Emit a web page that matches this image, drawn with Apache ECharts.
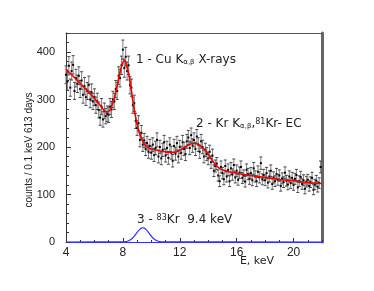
<!DOCTYPE html>
<html><head><meta charset="utf-8">
<script src="https://cdn.jsdelivr.net/npm/echarts@6/dist/echarts.min.js"></script>
<style>html,body{margin:0;padding:0;background:#fff}#c{width:374px;height:291px}</style>
</head><body><div id="c"></div>
<script>
// Measured spectrum, counts per 0.1 keV bin, bins starting at 4.0 keV
const binStart = 4.0;
const binWidth = 0.1;
const counts = [
352,338,371,325,360,373,318,345,333,350,
322,340,310,328,305,318,331,300,315,296,
305,288,296,278,262,285,258,276,265,270,
268,285,279,300,296,322,318,350,345,372,
405,366,390,360,372,330,325,288,292,255,
240,250,215,230,205,214,196,208,190,202,
188,205,183,198,215,180,200,176,194,210,
182,198,177,205,188,171,202,186,208,180,
200,188,210,196,185,212,220,198,225,203,
215,196,222,205,190,212,200,180,194,185,
176,190,168,182,150,160,165,140,128,158,
145,132,160,138,152,128,155,142,162,136,
150,131,146,158,135,140,127,152,143,133,
145,130,155,138,128,148,136,166,132,141,
130,145,125,138,150,122,136,128,143,131,
140,118,134,126,146,129,121,138,124,135,
120,133,141,115,128,137,122,130,112,127,
131,118,126,135,110,121,129,116,124,158
];
// Fit curve (red)
const fitE = [4.0,4.2,4.4,4.6,4.8,5.0,5.2,5.4,5.6,5.8,6.0,6.2,6.4,6.6,6.8,7.0,7.2,7.4,7.6,7.8,8.0,8.1,8.2,8.4,8.6,8.8,9.0,9.2,9.4,9.6,9.8,10.0,10.4,10.8,11.2,11.6,12.0,12.4,12.8,13.0,13.2,13.6,14.0,14.4,14.8,15.2,15.6,16.0,16.5,17.0,17.5,18.0,18.5,19.0,19.5,20.0,20.5,21.0,21.5,22.0];
const fitV = [364,358,352,346,340,334,328,322,316,309,302,295,288,280,274,275,285,303,330,358,378,382,378,355,318,278,247,226,212,203,198,196,193,191,189,189,193,201,207,208,207,199,185,167,155,150,147,145,142,140,138,136,134,132,130,129,127,125,124,123];
// 83Kr line (blue)
const krE = [4.0,8.0,8.1,8.2,8.3,8.4,8.5,8.6,8.7,8.8,8.9,9.0,9.1,9.2,9.3,9.4,9.5,9.6,9.7,9.8,9.9,10.0,10.1,10.2,10.3,10.4,10.5,10.6,10.7,10.8,22.0];
const krV = [0,0.2,0.5,0.9,1.5,2.5,4.1,6.2,8.9,12.3,16.2,20.2,24.0,27.2,29.3,30,29.3,27.2,24.0,20.2,16.2,12.3,8.9,6.2,4.1,2.5,1.5,0.9,0.5,0.2,0];
const xTicks = [4,8,12,16,20];
const yTicks = [0,100,200,300,400];

const pts = counts.map((v,i)=>[+(binStart+binWidth*i).toFixed(2), v]);
const fitData = fitE.map((e,i)=>[e,fitV[i]]);
const krData = krE.map((e,i)=>[e,krV[i]]);

const FONT = 'Liberation Sans, Arial, sans-serif';
const WIDE = 'DejaVu Sans, sans-serif';
const G = {left:66,top:33,right:52,bottom:49};
const chart = echarts.init(document.getElementById('c'), null, {renderer:'canvas'});
chart.setOption({
  animation:false,
  backgroundColor:'#fff',
  grid:[Object.assign({},G),Object.assign({},G)],
  xAxis:[
    {type:'value',gridIndex:0,min:4,max:22,interval:4,position:'bottom',
     axisLine:{show:true,onZero:false,lineStyle:{color:'#3030ff',width:1}},
     axisTick:{show:true,inside:true,length:4,lineStyle:{color:'#333'}},
     axisLabel:{show:true,margin:5,color:'#222',fontSize:12,fontFamily:FONT,showMaxLabel:false,
       formatter:v=>xTicks.indexOf(v)>=0?String(v):''},
     splitLine:{show:false}},
    {type:'value',gridIndex:0,min:4,max:22,position:'top',
     axisLine:{show:true,onZero:false,lineStyle:{color:'#555',width:1}},axisTick:{show:false},
     axisLabel:{show:false},splitLine:{show:false}},
    {type:'value',gridIndex:1,min:4,max:22,interval:1,position:'bottom',
     axisLine:{show:false,onZero:false},axisTick:{show:true,inside:true,length:2,lineStyle:{color:'#333'}},
     axisLabel:{show:false},splitLine:{show:false}}
  ],
  yAxis:[
    {type:'value',gridIndex:0,min:0,max:440,interval:100,position:'left',
     axisLine:{show:true,onZero:false,lineStyle:{color:'#333',width:1}},
     axisTick:{show:true,inside:true,length:5,lineStyle:{color:'#333'}},
     axisLabel:{show:true,margin:11,color:'#222',fontSize:11,fontFamily:FONT,showMaxLabel:false,
       formatter:v=>yTicks.indexOf(v)>=0?String(v):''},
     splitLine:{show:false}},
    {type:'value',gridIndex:0,min:0,max:440,position:'right',
     axisLine:{show:true,onZero:false,lineStyle:{color:'#666',width:3}},axisTick:{show:false},
     axisLabel:{show:false},splitLine:{show:false}},
    {type:'value',gridIndex:1,min:0,max:440,interval:20,position:'left',
     axisLine:{show:false,onZero:false},axisTick:{show:true,inside:true,length:3,lineStyle:{color:'#333'}},
     axisLabel:{show:false},splitLine:{show:false}}
  ],
  series:[
    {type:'custom',xAxisIndex:0,yAxisIndex:0,data:pts,z:2,
     renderItem:function(params,api){
       const x=api.value(0), y=api.value(1), err=Math.sqrt(y);
       const t=api.coord([x,y+err]), b=api.coord([x,y-err]), c=api.coord([x,y]);
       return {type:'group',children:[
         {type:'line',shape:{x1:t[0],y1:t[1],x2:b[0],y2:b[1]},style:{stroke:'#808080',lineWidth:1}},
         {type:'line',shape:{x1:t[0]-1.5,y1:t[1],x2:t[0]+1.5,y2:t[1]},style:{stroke:'#444',lineWidth:1}},
         {type:'line',shape:{x1:b[0]-1.5,y1:b[1],x2:b[0]+1.5,y2:b[1]},style:{stroke:'#444',lineWidth:1}},
         {type:'rect',shape:{x:c[0]-1,y:c[1]-1,width:2,height:2},style:{fill:'#000'}}
       ]};
     }},
    {type:'line',xAxisIndex:0,yAxisIndex:0,data:fitData,smooth:0.4,showSymbol:false,z:4,
     lineStyle:{color:'#ee0000',width:1.6}},
    {type:'line',xAxisIndex:0,yAxisIndex:0,data:krData,smooth:0.3,showSymbol:false,z:5,clip:false,
     lineStyle:{color:'#3030ff',width:1.2}}
  ],
  graphic:[
    {type:'text',x:29,y:150,rotation:Math.PI/2,
     style:{text:'counts / 0.1 keV 613 days',fontSize:10,fontFamily:FONT,fill:'#222',align:'center',verticalAlign:'middle'}},
    {type:'text',x:257,y:261,
     style:{text:'E, keV',fontSize:11,fontFamily:WIDE,fill:'#222',align:'center',verticalAlign:'middle'}},
    {type:'text',x:136,y:60,
     style:{text:'1 - Cu K{sub|α,β} X-rays',fontSize:12,fontFamily:WIDE,fill:'#222',verticalAlign:'middle',
       rich:{sub:{fontSize:7,fontFamily:WIDE,fill:'#222',padding:[5,0,0,0]}}}},
    {type:'text',x:196,y:124,
     style:{text:'2 - Kr K{sub|α,β},{sup|81}Kr- EC',fontSize:12,fontFamily:WIDE,fill:'#222',verticalAlign:'middle',
       rich:{sub:{fontSize:7,fontFamily:WIDE,fill:'#222',padding:[5,0,0,0]},
             sup:{fontSize:8,fontFamily:WIDE,fill:'#222',padding:[0,0,5,0]}}}},
    {type:'text',x:137,y:220,
     style:{text:'3 - {sup|83}Kr  9.4 keV',fontSize:12,fontFamily:WIDE,fill:'#222',verticalAlign:'middle',
       rich:{sup:{fontSize:8,fontFamily:WIDE,fill:'#222',padding:[0,0,5,0]}}}}
  ]
});
</script></body></html>
